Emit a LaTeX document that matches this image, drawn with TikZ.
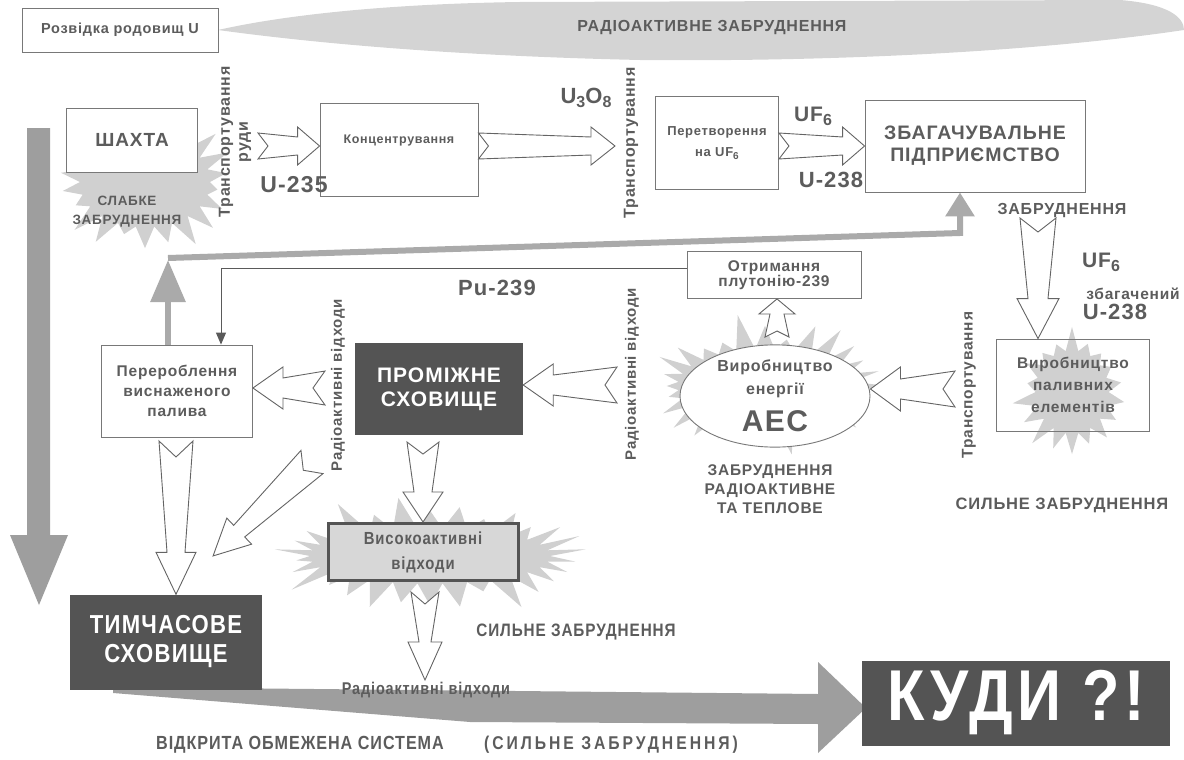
\documentclass[tikz,border=0pt]{standalone}
\usepackage{fontspec}
\setmainfont{Liberation Sans}[LetterSpace=5]
\newfontfamily\narrowfont{Liberation Sans}[FakeStretch=0.85, LetterSpace=5]
\usetikzlibrary{shapes.symbols,shapes.geometric,calc,arrows.meta}

\newcommand\fsz[2]{\fontsize{#1}{#2}\selectfont}
\newcommand\subnum[2]{\raisebox{-0.2em}{\fsz{#1}{#1}#2}}

\tikzset{
  ink/.style={text={rgb,255:red,92;green,92;blue,92}},
  plainbox/.style={draw={rgb,255:red,120;green,120;blue,120}, line width=0.9pt, fill=white, ink, font=\bfseries\fsz{14}{19}, align=center, inner sep=2pt},
  darkbox/.style={fill={rgb,255:red,84;green,84;blue,84}, text=white, font=\bfseries, align=center, inner sep=2pt},
  txt/.style={ink, font=\bfseries\fsz{14}{19}, align=center, inner sep=0pt},
  burst/.style={starburst, fill={rgb,255:red,208;green,208;blue,208}, draw=none, random starburst=#1},
  openarrow/.style={draw={rgb,255:red,100;green,100;blue,100}, fill=white, line width=0.9pt, line join=miter},
  bigarrow/.style={fill={rgb,255:red,158;green,158;blue,158}},
  greyline/.style={draw={rgb,255:red,170;green,170;blue,170}, line width=6pt},
  puline/.style={draw={rgb,255:red,90;green,90;blue,90}, line width=1pt},
  ba head/.store in=\bahead, ba len/.store in=\bahlen, ba neck/.store in=\baneck,
  ba tail/.store in=\batail, ba notch/.store in=\banotch,
  ba head=19, ba len=22, ba neck=9, ba tail=13, ba notch=10
}

% hollow block arrow with a notched tail, from #2 to #3
\newcommand\blockarrow[3][]{%
  \path let \p1=($(#3)-(#2)$) in \pgfextra{%
    \pgfmathparse{atan2(\y1,\x1)}\xdef\baang{\pgfmathresult}%
    \pgfmathparse{veclen(\x1,\y1)}\xdef\balen{\pgfmathresult}};
  \begin{scope}[shift={(#2)},rotate=\baang,x=1pt,y=1pt]
    \draw[openarrow,#1] (0,\batail) -- ({\balen-\bahlen},\baneck) -- ({\balen-\bahlen},\bahead) -- (\balen,0)
      -- ({\balen-\bahlen},-\bahead) -- ({\balen-\bahlen},-\baneck) -- (0,-\batail) -- (\banotch,0) -- cycle;
  \end{scope}}

\begin{document}
\begin{tikzpicture}[x=1pt,y=-1pt]
  \useasboundingbox (0,0) rectangle (1184,760);

  %Shape: brush band at the top
  \fill[fill={rgb,255:red,212;green,212;blue,212}] (218,30) .. controls (280,16) and (380,4) .. (520,2) -- (1120,0)
    .. controls (1170,4) and (1184,18) .. (1184,30) .. controls (1050,50) and (850,62) .. (640,60)
    .. controls (460,56) and (320,44) .. (218,30) -- cycle;

  %Shape: starbursts
  \node[burst=3, starburst points=22, starburst point height=30pt, minimum width=190pt, minimum height=150pt] (sbshx) at (145,182) {};
  \node[burst=5, starburst points=28, starburst point height=38pt, minimum width=250pt, minimum height=150pt] (sbaes) at (765,386) {};
  \node[burst=7, starburst points=18, starburst point height=26pt, minimum width=125pt, minimum height=135pt] (sbpal) at (1072,392) {};
  \node[burst=9, starburst points=30, starburst point height=40pt, minimum width=320pt, minimum height=135pt] (sbvys) at (430,556) {};

  %Shape: big grey arrows
  \fill[bigarrow] (27,128) -- (50,128) -- (50,535) -- (68,535) -- (39,605) -- (10,535) -- (27,535) -- cycle;
  \fill[bigarrow] (113,687) -- (818,694) -- (818,662) -- (866,708) -- (818,753) -- (818,724) -- (470,722) -- (113,693) -- cycle;

  %Shape: boxes
  \node[plainbox, font=\bfseries\fsz{14.5}{16}, minimum width=196pt, minimum height=44pt] (rozv) at (120,30) {Розвідка родовищ U};
  \node[plainbox, font=\bfseries\fsz{19}{20}, minimum width=131pt, minimum height=64pt] (shx) at (132,140) {ШАХТА};
  \node[plainbox, font=\bfseries\fsz{12.5}{16}, text depth=22pt, minimum width=158pt, minimum height=93pt] (konc) at (399,150) {Концентрування};
  \node[plainbox, font=\bfseries\fsz{13}{21}, minimum width=123pt, minimum height=93pt] (peretv) at (717,143) {Перетворення\\на UF\subnum{10}{6}};
  \node[plainbox, font=\bfseries\fsz{19.5}{22}, minimum width=220pt, minimum height=92pt] (zbag) at (975,146) {ЗБАГАЧУВАЛЬНЕ\\ПІДПРИЄМСТВО};
  \node[plainbox, font=\bfseries\fsz{15.5}{14}, minimum width=174pt, minimum height=47pt] (otrym) at (774,275) {Отримання\\плутонію-239};
  \node[plainbox, fill=none, minimum width=153pt, minimum height=92pt, font=\bfseries\fsz{15.5}{22}] (vyrpal) at (1073,385) {Виробництво\\паливних\\елементів};
  \node[plainbox, shape=ellipse, inner sep=0pt, minimum width=190pt, minimum height=82pt, font=\bfseries\fsz{16}{23}] (aes) at (775,396) {Виробництво\\енергії\\[12pt]{\fsz{30}{30}АЕС}};
  \node[darkbox, font=\bfseries\fsz{21}{24}, minimum width=168pt, minimum height=92pt] (promizh) at (439,389) {ПРОМІЖНЕ\\СХОВИЩЕ};
  \node[plainbox, font=\bfseries\fsz{15.5}{20}, minimum width=151pt, minimum height=92pt] (perer) at (177,391) {Перероблення\\виснаженого\\палива};
  \node[plainbox, draw={rgb,255:red,84;green,84;blue,84}, line width=3pt, fill={rgb,255:red,215;green,215;blue,215}, font=\narrowfont\bfseries\fsz{17.5}{25}, minimum width=190pt, minimum height=57pt] (vysok) at (423,552) {Високоактивні\\відходи};
  \node[darkbox, font=\narrowfont\bfseries\fsz{26}{29}, minimum width=192pt, minimum height=95pt] (tymch) at (166,642) {ТИМЧАСОВЕ\\СХОВИЩЕ};
  \node[darkbox, font=\narrowfont\bfseries\fsz{72}{72}\addfontfeature{LetterSpace=6}, minimum width=308pt, minimum height=85pt] (kudy) at (1016,703) {КУДИ ?!};

  %Straight Lines: grey return line and Pu-239 line
  \coordinate (gl1) at (168,258);
  \coordinate (gl2) at (960,233);
  \draw[greyline, -{Triangle[width=34pt,length=42pt]}] (perer.north -| gl1) -- ($(gl1)+(0,2)$);
  \draw[greyline, -{Triangle[width=28pt,length=24pt]}] (gl1) -- (gl2) -- (zbag.south -| gl2);
  \draw[puline, -{Triangle[width=10pt,length=12pt]}] ($(otrym.west)+(0,-7)$) -| ($(perer.north)+(44,0)$);

  %Shape: hollow arrows
  \coordinate (a1s) at (258,146);               \coordinate (a1e) at (konc.west |- a1s);
  \coordinate (a2s) at (konc.east |- a1s);      \coordinate (a2e) at (615,146);
  \coordinate (a3s) at (peretv.east |- a1s);    \coordinate (a3e) at (zbag.west |- a1s);
  \coordinate (a4s) at (1038,218);              \coordinate (a4e) at (vyrpal.north -| a4s);
  \coordinate (a5s) at (955,389);               \coordinate (a5e) at (aes.east |- a5s);
  \coordinate (a6s) at (777,337);               \coordinate (a6e) at (otrym.south -| a6s);
  \coordinate (a7s) at (617,385);               \coordinate (a7e) at (promizh.east |- a7s);
  \coordinate (a8s) at (325,388);               \coordinate (a8e) at (perer.east |- a8s);
  \coordinate (a9s) at (176,441);               \coordinate (a9e) at (tymch.north -| a9s);
  \coordinate (a10s) at (312,462);              \coordinate (a10e) at (213,556);
  \coordinate (a11s) at (423,442);              \coordinate (a11e) at (vysok.north -| a11s);
  \coordinate (a12s) at (425,592);              \coordinate (a12e) at (425,680);
  \blockarrow{a1s}{a1e}
  \blockarrow[ba len=24]{a2s}{a2e}
  \blockarrow{a3s}{a3e}
  \blockarrow[ba head=21, ba len=40, ba neck=10, ba tail=18, ba notch=14]{a4s}{a4e}
  \blockarrow[ba head=22, ba len=30, ba neck=10, ba tail=18, ba notch=12]{a5s}{a5e}
  \blockarrow[ba head=18, ba len=15, ba neck=7, ba tail=12, ba notch=6]{a6s}{a6e}
  \blockarrow[ba head=21, ba len=30, ba neck=10, ba tail=18, ba notch=12]{a7s}{a7e}
  \blockarrow[ba head=21, ba len=30, ba neck=10, ba tail=17, ba notch=12]{a8s}{a8e}
  \blockarrow[ba head=20, ba len=42, ba neck=9, ba tail=17, ba notch=16]{a9s}{a9e}
  \blockarrow[ba head=18, ba len=36, ba neck=8, ba tail=16, ba notch=12]{a10s}{a10e}
  \blockarrow[ba head=20, ba len=30, ba neck=9, ba tail=16, ba notch=12]{a11s}{a11e}
  \blockarrow[ba head=17, ba len=38, ba neck=6, ba tail=14, ba notch=12]{a12s}{a12e}

  % Text Node
  \node[txt, font=\bfseries\fsz{16}{18}] (radzab) at (712,28) {РАДІОАКТИВНЕ ЗАБРУДНЕННЯ};
  \node[txt, font=\bfseries\fsz{13.5}{19}] (slabke) at (127,212) {СЛАБКЕ\\ЗАБРУДНЕННЯ};
  \node[txt, rotate=90, font=\bfseries\fsz{16}{18}] (trruda) at (235,142) {Транспортування\\руди};
  \node[txt, font=\bfseries\fsz{23}{24}] (u235) at (294,185) {U-235};
  \node[txt, font=\bfseries\fsz{22}{24}] (u3o8) at (586,98) {U\subnum{16}{3}O\subnum{16}{8}};
  \node[txt, rotate=90, font=\bfseries\fsz{16}{18}] (tr2) at (631,143) {Транспортування};
  \node[txt, font=\bfseries\fsz{21}{22}] (uf6a) at (813,116) {UF\subnum{16}{6}};
  \node[txt, font=\bfseries\fsz{22}{24}] (u238a) at (831,180) {U-238};
  \node[txt, font=\bfseries\fsz{16}{18}] (zabzb) at (1062,211) {ЗАБРУДНЕННЯ};
  \node[txt, font=\bfseries\fsz{21}{22}] (uf6b) at (1101,262) {UF\subnum{16}{6}};
  \node[txt, font=\bfseries\fsz{15.5}{18}] (zbag6) at (1133,294) {збагачений};
  \node[txt, font=\bfseries\fsz{22}{24}] (u238b) at (1115,312) {U-238};
  \node[txt, font=\bfseries\fsz{22}{24}] (pu) at (497,288) {Pu-239};
  \node[txt, rotate=90, font=\bfseries\fsz{15}{16}] (radv1) at (338,385) {Радіоактивні відходи};
  \node[txt, rotate=90, font=\bfseries\fsz{15}{16}] (radv2) at (632,374) {Радіоактивні відходи};
  \node[txt, rotate=90, font=\bfseries\fsz{15.5}{18}] (tr3) at (969,385) {Транспортування};
  \node[txt, font=\bfseries\fsz{15.5}{19}] (zabaes) at (770,489) {ЗАБРУДНЕННЯ\\РАДІОАКТИВНЕ\\ТА ТЕПЛОВЕ};
  \node[txt, font=\bfseries\fsz{16.5}{18}] (sylne1) at (1062,505) {СИЛЬНЕ ЗАБРУДНЕННЯ};
  \node[txt, font=\narrowfont\bfseries\fsz{18}{20}] (sylne2) at (576,632) {СИЛЬНЕ ЗАБРУДНЕННЯ};
  \node[txt, font=\narrowfont\bfseries\fsz{17}{18}] (radv3) at (426,690) {Радіоактивні відходи};
  \node[txt, font=\narrowfont\bfseries\fsz{19}{20}] (vidkr1) at (300,745) {ВІДКРИТА ОБМЕЖЕНА СИСТЕМА};
  \node[txt, font=\narrowfont\bfseries\fsz{18.5}{20}\addfontfeature{LetterSpace=16}] (vidkr2) at (611,745) {(СИЛЬНЕ ЗАБРУДНЕННЯ)};
\end{tikzpicture}
\end{document}
